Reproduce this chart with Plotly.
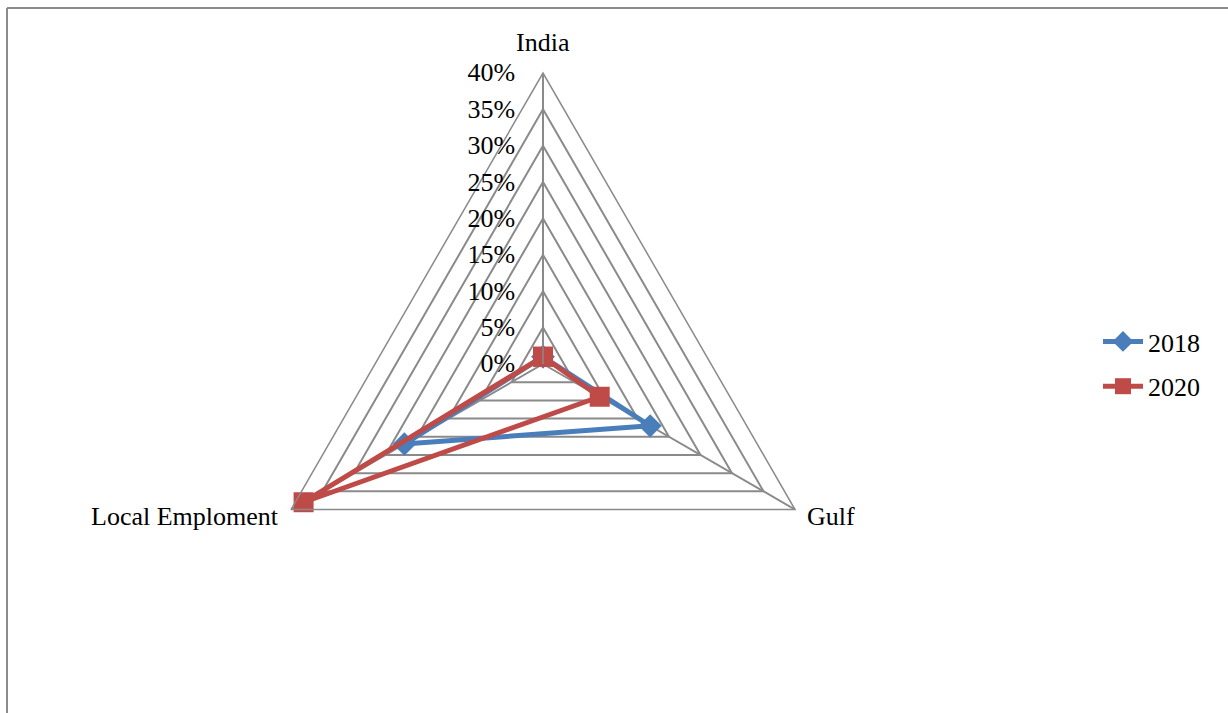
import plotly.graph_objects as go
import math

categories = ["India", "Gulf", "Local Emploment"]
series_2018 = [1, 17, 22]
series_2020 = [1, 9, 38]
radial_ticks = [0, 5, 10, 15, 20, 25, 30, 35, 40]
radial_tick_labels = [f"{v}%" for v in radial_ticks]

W, H = 1228, 713
cx, cy, R = 543, 364, 291

FONT = "Liberation Serif"
FS = 26
GRID = "#8a8a8a"

fig = go.Figure()
fig.add_trace(go.Scatterpolar(
    r=series_2018 + series_2018[:1], theta=categories + categories[:1],
    name="2018", mode="lines+markers", legendgroup="a",
    line=dict(color="#4A7EBB", width=5),
    marker=dict(symbol="diamond", size=18, color="#4A7EBB"),
))
fig.add_trace(go.Scatterpolar(
    r=series_2020 + series_2020[:1], theta=categories + categories[:1],
    name="2020", mode="lines+markers", legendgroup="b",
    line=dict(color="#BE4B48", width=5),
    marker=dict(symbol="square", size=20, color="#BE4B48"),
))

fig.update_layout(
    width=W, height=H,
    margin=dict(l=0, r=0, t=0, b=0),
    paper_bgcolor="white", plot_bgcolor="white",
    font=dict(family=FONT, size=FS, color="black"),
    polar=dict(
        domain=dict(x=[(cx - R) / W, (cx + R) / W], y=[1 - (cy + R) / H, 1 - (cy - R) / H]),
        gridshape="linear",
        bgcolor="white",
        radialaxis=dict(
            range=[0, 40], tickvals=radial_ticks, ticktext=radial_tick_labels,
            angle=90, tickangle=90, side="counterclockwise",
            showline=True, linecolor=GRID, linewidth=1.5,
            gridcolor=GRID, gridwidth=1.5,
            ticks="outside", ticklen=18, tickcolor="rgba(0,0,0,0)",
            tickfont=dict(family=FONT, size=FS),
        ),
        angularaxis=dict(
            direction="clockwise", rotation=90,
            showline=True, linecolor=GRID, linewidth=1.5,
            gridcolor=GRID, gridwidth=1.5,
            ticks="", showticklabels=False,
        ),
    ),
    legend=dict(
        x=1098 / W, y=1 - 318 / H, xanchor="left", yanchor="top",
        font=dict(family=FONT, size=FS), tracegroupgap=8,
        itemwidth=40, bgcolor="rgba(0,0,0,0)",
    ),
    showlegend=True,
)

# category labels placed at the polygon vertices
label_specs = {
    "India": dict(dx=0, dy=-14, xanchor="center", yanchor="bottom"),
    "Gulf": dict(dx=10, dy=7, xanchor="left", yanchor="middle"),
    "Local Emploment": dict(dx=-10, dy=7, xanchor="right", yanchor="middle"),
}
for i, cat in enumerate(categories):
    ang = math.radians(90 - i * 360 / len(categories))
    vx = cx + R * math.cos(ang)
    vy = cy - R * math.sin(ang)
    s = label_specs[cat]
    fig.add_annotation(
        text=cat, xref="paper", yref="paper",
        x=(vx + s["dx"]) / W, y=1 - (vy + s["dy"]) / H,
        xanchor=s["xanchor"], yanchor=s["yanchor"], showarrow=False,
        font=dict(family=FONT, size=FS, color="black"),
    )

# frame lines (cropped chart border)
fig.add_shape(type="line", xref="paper", yref="paper",
              x0=7 / W, x1=7 / W, y0=0, y1=1 - 8 / H,
              line=dict(color="#8c8c8c", width=2))
fig.add_shape(type="line", xref="paper", yref="paper",
              x0=7 / W, x1=1, y0=1 - 8 / H, y1=1 - 8 / H,
              line=dict(color="#8c8c8c", width=2))

fig.write_html("out.html", config={"displayModeBar": False},
               post_script="document.body.style.margin='0';")
